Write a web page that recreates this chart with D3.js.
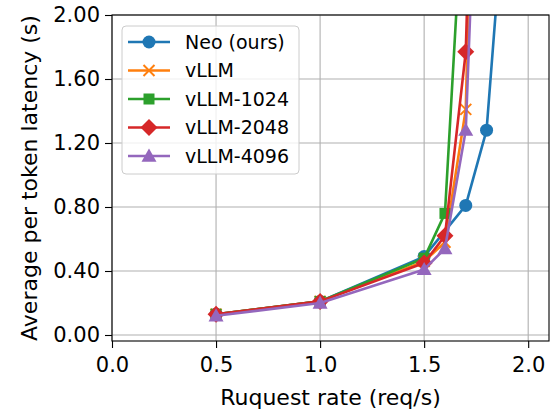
<!DOCTYPE html>
<html>
<head>
<meta charset="utf-8">
<script src="https://cdn.jsdelivr.net/npm/d3@7"></script>
<style>
  html, body { margin: 0; padding: 0; background: #fff; }
  svg text { font-family: "DejaVu Sans", sans-serif; }
</style>
</head>
<body>
<svg id="chart" width="553" height="412"></svg>
<script>
// ---- Data ----
const seriesNames = ["Neo (ours)", "vLLM", "vLLM-1024", "vLLM-2048", "vLLM-4096"];
const neoX   = [0.5, 1.0, 1.5, 1.7, 1.8, 1.9];
const neoY   = [0.13, 0.21, 0.49, 0.81, 1.28, 2.96];
const vllmX  = [0.5, 1.0, 1.5, 1.6, 1.7, 1.8];
const vllmY  = [0.13, 0.21, 0.46, 0.58, 1.41, 6.55];
const v1024X = [0.5, 1.0, 1.5, 1.6, 1.7];
const v1024Y = [0.13, 0.21, 0.48, 0.76, 3.06];
const v2048X = [0.5, 1.0, 1.5, 1.6, 1.7, 1.8];
const v2048Y = [0.13, 0.21, 0.45, 0.62, 1.77, 6.25];
const v4096X = [0.5, 1.0, 1.5, 1.6, 1.7, 1.8];
const v4096Y = [0.12, 0.20, 0.41, 0.54, 1.28, 4.72];
const xTicks = [0.0, 0.5, 1.0, 1.5, 2.0];
const yTicks = [0.00, 0.40, 0.80, 1.20, 1.60, 2.00];
const xLabel = "Ruquest rate (req/s)";
const yLabel = "Average per token latency (s)";

const colors = ["#1f77b4", "#ff7f0e", "#2ca02c", "#d62728", "#9467bd"];
const markers = ["circle", "x", "square", "diamond", "triangle"];
const allX = [neoX, vllmX, v1024X, v2048X, v4096X];
const allY = [neoY, vllmY, v1024Y, v2048Y, v4096Y];
const series = seriesNames.map((n, i) => ({
  name: n, color: colors[i], marker: markers[i],
  pts: allX[i].map((x, j) => ({x, y: allY[i][j]}))
}));

// ---- Layout ----
const L = 112, R = 549, T = 15, B = 341;
const FS = 21, AFS = 22, LFS = 19;
const svg = d3.select("#chart");
const x = d3.scaleLinear().domain([0, 2.1]).range([L, R]);
const y = d3.scaleLinear().domain([-0.0375, 2.0]).range([B, T]);

svg.append("defs").append("clipPath").attr("id", "clip")
  .append("rect").attr("x", L).attr("y", T).attr("width", R - L).attr("height", B - T);

// grid
const grid = svg.append("g");
grid.selectAll(".gx").data(xTicks).enter().append("line")
  .attr("x1", d => x(d)).attr("x2", d => x(d)).attr("y1", T).attr("y2", B)
  .attr("stroke", "#b0b0b0").attr("stroke-width", 1.1);
grid.selectAll(".gy").data(yTicks).enter().append("line")
  .attr("y1", d => y(d)).attr("y2", d => y(d)).attr("x1", L).attr("x2", R)
  .attr("stroke", "#b0b0b0").attr("stroke-width", 1.1);

// axes
const xAxis = d3.axisBottom(x).tickValues(xTicks).tickFormat(d3.format(".1f")).tickSize(7).tickPadding(9);
const yAxis = d3.axisLeft(y).tickValues(yTicks).tickFormat(d3.format(".2f")).tickSize(7).tickPadding(5);
const gx = svg.append("g").attr("transform", `translate(0,${B})`).call(xAxis);
const gy = svg.append("g").attr("transform", `translate(${L},0)`).call(yAxis);
[gx, gy].forEach(g => {
  g.select(".domain").remove();
  g.selectAll("text").attr("font-size", FS).attr("fill", "#000").attr("font-family", "DejaVu Sans");
  g.selectAll("line").attr("stroke", "#000").attr("stroke-width", 1.1);
});

// markers
function drawMarker(g, type, color) {
  if (type === "circle") {
    g.append("circle").attr("r", 6.5).attr("fill", color);
  } else if (type === "x") {
    const a = 5.5;
    g.append("path").attr("d", `M${-a},${-a}L${a},${a}M${-a},${a}L${a},${-a}`)
      .attr("stroke", color).attr("stroke-width", 2).attr("fill", "none");
  } else if (type === "square") {
    g.append("rect").attr("x", -5.5).attr("y", -5.5).attr("width", 11).attr("height", 11).attr("fill", color);
  } else if (type === "diamond") {
    const a = 8.5;
    g.append("path").attr("d", `M0,${-a}L${a},0L0,${a}L${-a},0Z`).attr("fill", color);
  } else if (type === "triangle") {
    const a = 7.5;
    g.append("path").attr("d", `M0,${-a}L${a},${a*0.75}L${-a},${a*0.75}Z`).attr("fill", color);
  }
}

const plot = svg.append("g").attr("clip-path", "url(#clip)");
const line = d3.line().x(d => x(d.x)).y(d => y(d.y));
series.forEach(s => {
  const g = plot.append("g");
  g.append("path").attr("d", line(s.pts)).attr("fill", "none")
    .attr("stroke", s.color).attr("stroke-width", 2.6).attr("stroke-linejoin", "round");
  s.pts.forEach(p => {
    const m = g.append("g").attr("transform", `translate(${x(p.x)},${y(p.y)})`);
    drawMarker(m, s.marker, s.color);
  });
});

// spines
svg.append("rect").attr("x", L).attr("y", T).attr("width", R - L).attr("height", B - T)
  .attr("fill", "none").attr("stroke", "#000").attr("stroke-width", 1.1);

// labels
svg.append("text").attr("x", (L + R) / 2).attr("y", 405).attr("text-anchor", "middle")
  .attr("font-size", AFS).text(xLabel);
svg.append("text").attr("transform", `translate(37,${(T + B) / 2}) rotate(-90)`)
  .attr("text-anchor", "middle").attr("font-size", AFS).text(yLabel);

// legend
const lg = svg.append("g");
lg.append("rect").attr("x", 122).attr("y", 26).attr("width", 177).attr("height", 148)
  .attr("rx", 4).attr("fill", "#fff").attr("fill-opacity", 0.8)
  .attr("stroke", "#cccccc").attr("stroke-width", 1);
series.forEach((s, i) => {
  const cy = 42 + i * 28.5;
  const g = lg.append("g");
  g.append("line").attr("x1", 128).attr("x2", 170).attr("y1", cy).attr("y2", cy)
    .attr("stroke", s.color).attr("stroke-width", 2.6);
  const m = g.append("g").attr("transform", `translate(149,${cy})`);
  drawMarker(m, s.marker, s.color);
  g.append("text").attr("x", 185).attr("y", cy).attr("dy", "0.35em")
    .attr("font-size", LFS).text(s.name);
});
</script>
</body>
</html>
